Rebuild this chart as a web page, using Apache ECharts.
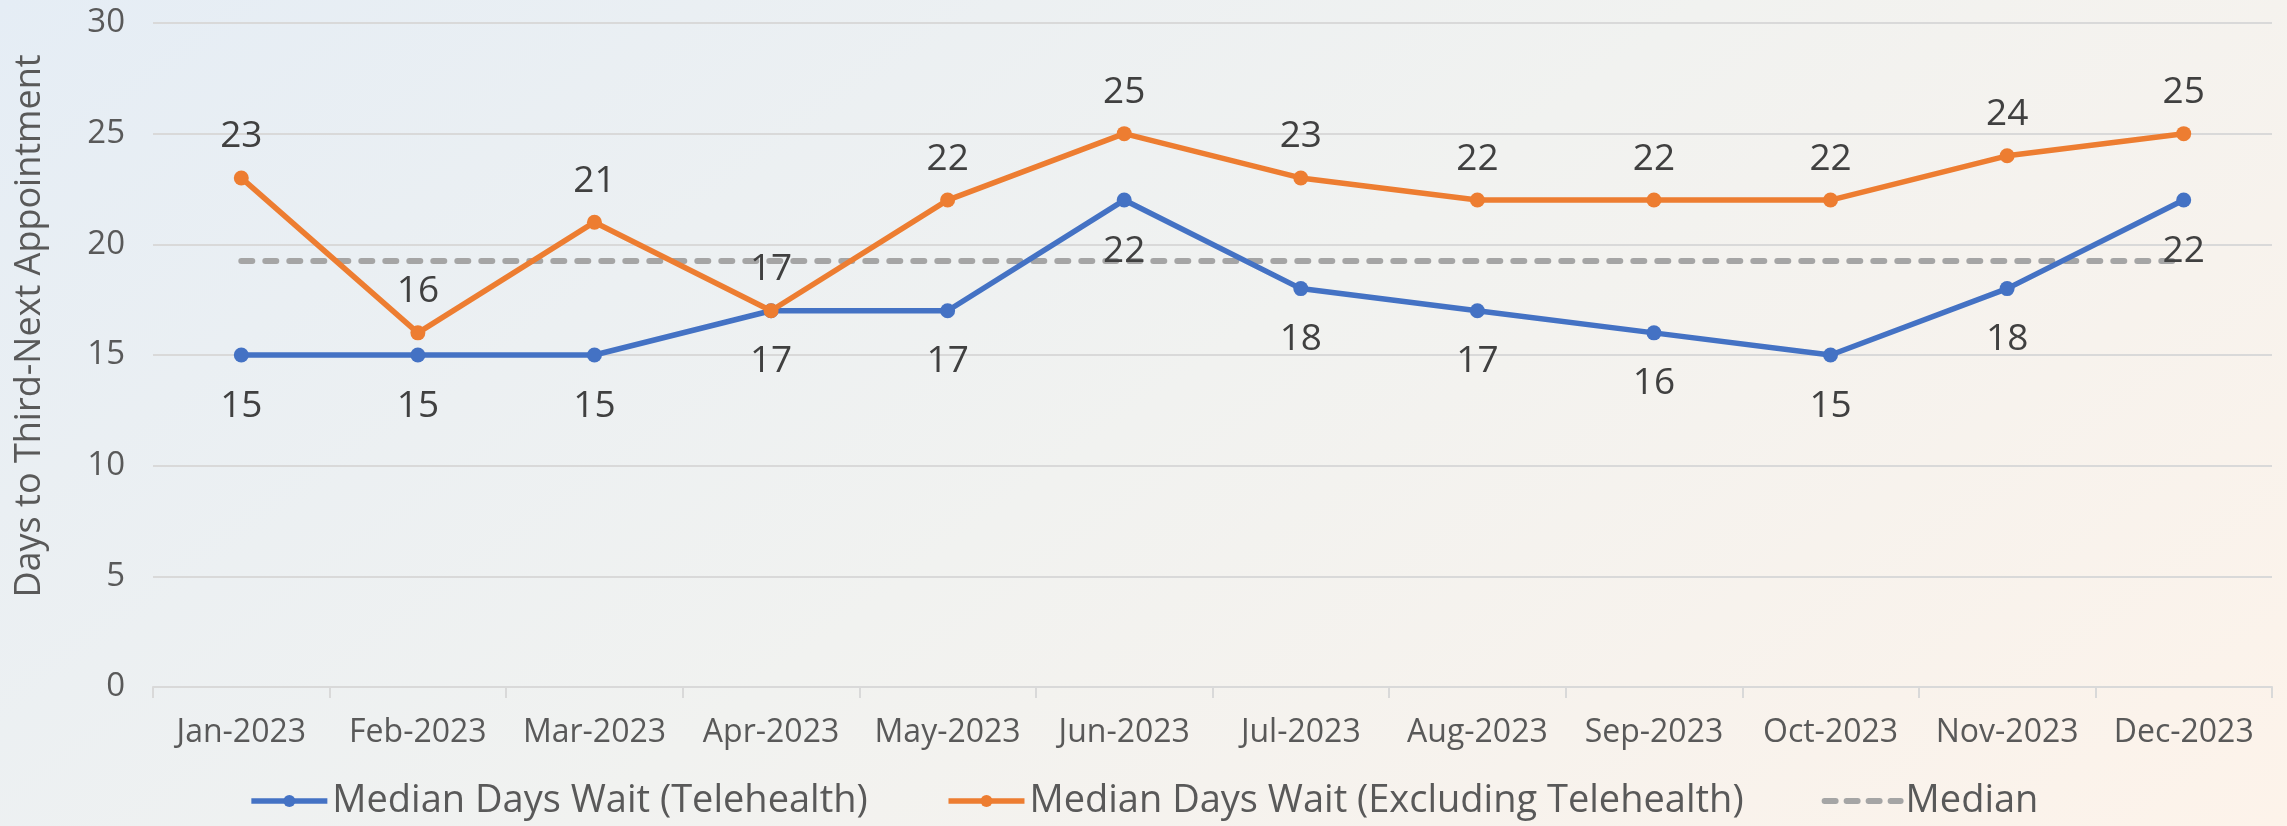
<!DOCTYPE html>
<html>
<head>
<meta charset="utf-8">
<script src="https://cdn.jsdelivr.net/npm/echarts@6/dist/echarts.min.js"></script>
<style>
  html, body { margin: 0; padding: 0; }
  #chart {
    width: 2287px;
    height: 826px;
    background: linear-gradient(144deg, #e5edf5 0%, #f1f2f0 50%, #fdf3ea 100%);
  }
</style>
</head>
<body>
<div id="chart"></div>
<script>
const months = ["Jan-2023", "Feb-2023", "Mar-2023", "Apr-2023", "May-2023", "Jun-2023",
                "Jul-2023", "Aug-2023", "Sep-2023", "Oct-2023", "Nov-2023", "Dec-2023"];
const telehealth = [15, 15, 15, 17, 17, 22, 18, 17, 16, 15, 18, 22];
const excludingTelehealth = [23, 16, 21, 17, 22, 25, 23, 22, 22, 22, 24, 25];
const median = [19.25, 19.25, 19.25, 19.25, 19.25, 19.25, 19.25, 19.25, 19.25, 19.25, 19.25, 19.25];

const FONT = "Open Sans";
const chart = echarts.init(document.getElementById("chart"));

const option = {
    backgroundColor: "transparent",
    animation: false,
    grid: { left: 153, right: 15, top: 23, bottom: 139 },
    legend: {
        bottom: 1,
        left: "center",
        itemWidth: 76,
        itemHeight: 15,
        itemGap: 78,
        textStyle: { color: "#595959", fontSize: 38, fontFamily: FONT },
        data: [
            { name: "Median Days Wait (Telehealth)", lineStyle: { width: 5.5 } },
            { name: "Median Days Wait (Excluding Telehealth)", lineStyle: { width: 5.5 } },
            { name: "Median", itemStyle: { opacity: 0 }, lineStyle: { width: 6, type: [11, 11], cap: "round" } },
        ],
    },
    xAxis: {
        type: "category",
        data: months,
        boundaryGap: true,
        axisLine: { lineStyle: { color: "#d9d9d9", width: 2 } },
        axisTick: { show: true, interval: 0, length: 11, lineStyle: { color: "#d9d9d9", width: 2 } },
        axisLabel: { interval: 0, color: "#595959", fontSize: 32, fontFamily: FONT, margin: 30 },
        splitLine: { show: false },
    },
    yAxis: {
        type: "value",
        min: 0,
        max: 30,
        interval: 5,
        name: "Days to Third-Next Appointment",
        nameLocation: "middle",
        nameGap: 105,
        nameTextStyle: { color: "#595959", fontSize: 36, fontFamily: FONT, padding: [0, 0, 0, 58] },
        axisLine: { show: false },
        axisTick: { show: false },
        axisLabel: { color: "#595959", fontSize: 33, fontFamily: FONT, margin: 28 },
        splitLine: { lineStyle: { color: "#d9d9d9", width: 2 } },
    },
    series: [
        {
            name: "Median Days Wait (Telehealth)",
            type: "line",
            data: telehealth,
            symbol: "circle",
            symbolSize: 15,
            lineStyle: { color: "#4472c4", width: 5.5 },
            itemStyle: { color: "#4472c4" },
            label: {
                show: true,
                position: "bottom",
                distance: 25,
                color: "#404040",
                fontSize: 37,
                fontFamily: FONT,
            },
            z: 3,
        },
        {
            name: "Median Days Wait (Excluding Telehealth)",
            type: "line",
            data: excludingTelehealth,
            symbol: "circle",
            symbolSize: 15,
            lineStyle: { color: "#ed7d31", width: 5.5 },
            itemStyle: { color: "#ed7d31" },
            label: {
                show: true,
                position: "top",
                distance: 15,
                color: "#404040",
                fontSize: 37,
                fontFamily: FONT,
            },
            z: 4,
        },
        {
            name: "Median",
            type: "line",
            data: median,
            symbol: "none",
            lineStyle: { color: "#a5a5a5", width: 6, type: [11, 13], cap: "round" },
            itemStyle: { color: "#a5a5a5" },
            z: 2,
        },
    ],
};

chart.setOption(option);
</script>
</body>
</html>
